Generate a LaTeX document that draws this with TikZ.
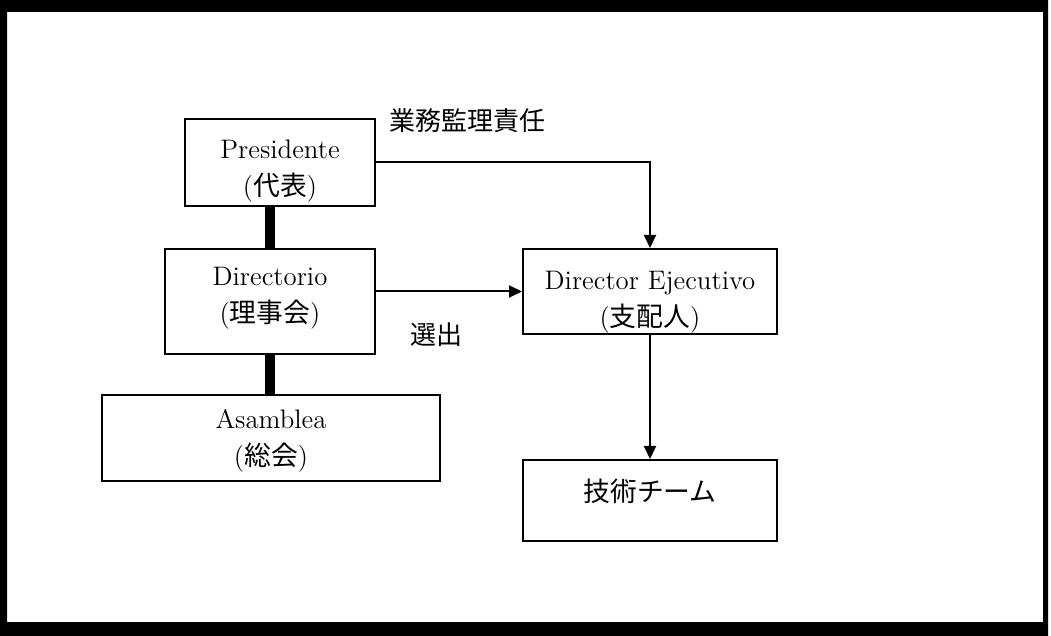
\documentclass[tikz,border=0pt]{standalone}
\usepackage{fontspec}
\newfontfamily\jp{Noto Sans CJK JP}
\usetikzlibrary{arrows.meta}
\usetikzlibrary{calc}

\tikzset{
    orgbox/.style={draw,line width=1pt,inner sep=0pt,align=center,
        anchor=north west,font=\fontsize{13.4}{18.5}\selectfont},
    link/.style={line width=1pt,-{Triangle[length=6.5pt,width=6pt]}},
    bar/.style={line width=5pt},
    tag/.style={font=\fontsize{13}{15}\selectfont\jp}
}
% two lines, baseline put #1 off the box centre
\newcommand{\twolines}[3]{\raisebox{#1}[0pt][0pt]{\begin{tabular}{@{}c@{}}#2\\#3\end{tabular}}}

\begin{document}
\begin{tikzpicture}[x=0.5pt,y=-0.5pt]
                \useasboundingbox (0,0) rectangle (1051,636);
                % frame
                \fill[even odd rule] (0,0) rectangle (1048,636) (7,12) rectangle (1043,622);

                % left column
                \node[orgbox,minimum width=95pt,minimum height=43.5pt] (pres) at (184,118)
                    {\twolines{-7.2pt}{Presidente}{({\jp 代表})}};
                \node[orgbox,minimum width=105pt,minimum height=52.5pt] (dir) at (164,248)
                    {\twolines{-1pt}{Directorio}{({\jp 理事会})}};
                \node[orgbox,minimum width=169pt,minimum height=43pt] (asam) at (101,394)
                    {\twolines{-4.5pt}{Asamblea}{({\jp 総会})}};

                % right column
                \node[orgbox,minimum width=127pt,minimum height=42.5pt] (ejec) at (522,248)
                    {\twolines{-8pt}{Director Ejecutivo}{({\jp 支配人})}};
                \node[orgbox,minimum width=127pt,minimum height=40.5pt] (tech) at (522,459)
                    {\raisebox{-0.3pt}[0pt][0pt]{\jp 技術チーム}};

                \draw[bar] (dir.north) -- (dir.north |- pres.south);
                \draw[bar] (dir.south) -- (dir.south |- asam.north);

                \coordinate (turn) at (pres.east -| ejec.north);
                \draw[link] (pres.east) -- (turn) -- (ejec.north);
                \draw[link] (dir.east |- ejec.west) -- (ejec.west);
                \draw[link] (ejec.south) -- (tech.north);

                \node[tag] (sup) at (467,121) {業務監理責任};
                \node[tag] (sel) at (436,335) {選出};
            \end{tikzpicture}
\end{document}
